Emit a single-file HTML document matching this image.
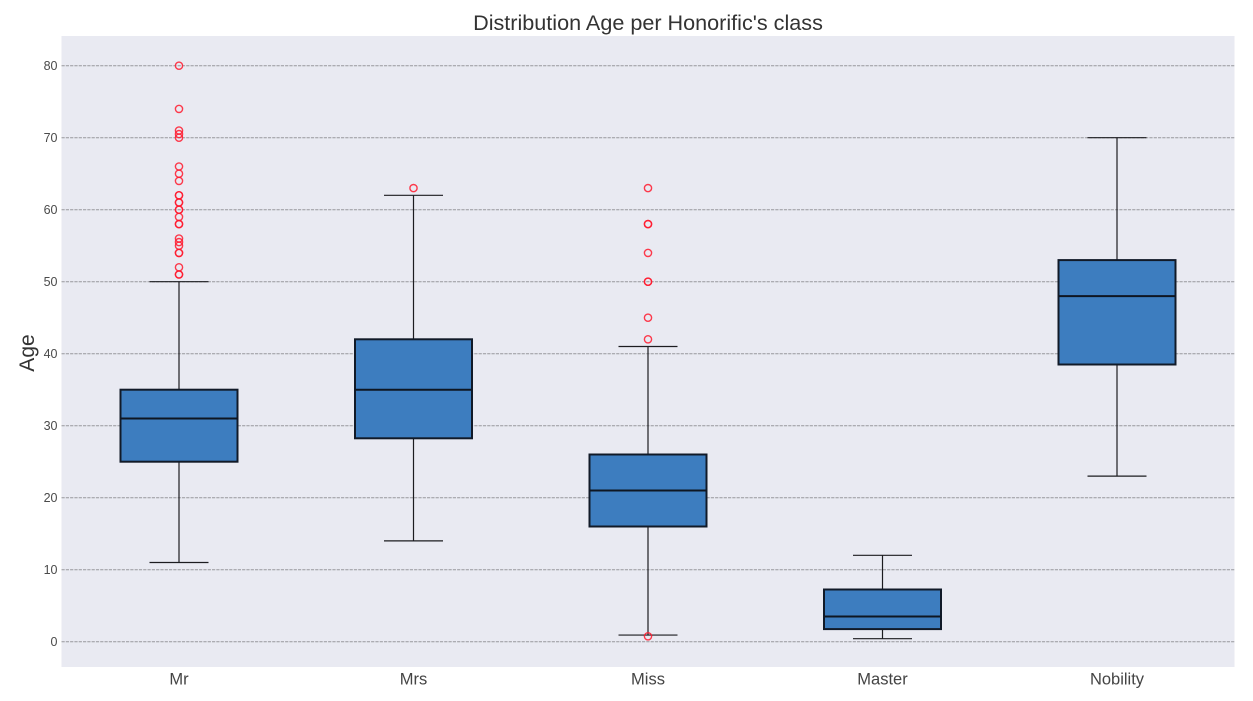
<!DOCTYPE html>
<html lang="en">
<head>
<meta charset="utf-8">
<title>Distribution Age per Honorific's class</title>
<style>
html,body{margin:0;padding:0;background:#fff;}
svg{display:block;font-family:"Liberation Sans",Arial,sans-serif;filter:blur(0.35px);}
</style>
</head>
<body>
<svg id="chart" xmlns="http://www.w3.org/2000/svg" width="1253" height="701" viewBox="0 0 1253 701">
  <rect x="61.5" y="36" width="1173" height="631" fill="#e9eaf2"/>
  <text x="648" y="30" font-size="21.6" fill="#333" text-anchor="middle">Distribution Age per Honorific's class</text>
  <text transform="translate(34,353) rotate(-90)" font-size="21" fill="#333" text-anchor="middle">Age</text>
  <g id="grid"></g>
  <g id="yticks"></g>
  <g id="xticks"></g>
  <g id="boxes"></g>
</svg>
<script>
const categories = ["Mr", "Mrs", "Miss", "Master", "Nobility"];
const whiskerLow = [11, 14, 0.92, 0.42, 23];
const quartile1 = [25, 28.25, 16, 1.75, 38.5];
const medians = [31, 35, 21, 3.5, 48];
const quartile3 = [35, 42, 26, 7.25, 53];
const whiskerHigh = [50, 62, 41, 12, 70];
const outliersMr = [80, 74, 71, 70.5, 70, 66, 65, 64, 62, 62, 61, 61, 60, 60, 59, 58, 58, 56, 55.5, 55, 54, 54, 52, 51, 51];
const outliersMrs = [63];
const outliersMiss = [63, 58, 58, 54, 50, 50, 45, 42, 0.75];
const outliersMaster = [];
const outliersNobility = [];
const outlierSeries = [outliersMr, outliersMrs, outliersMiss, outliersMaster, outliersNobility];
const yTickValues = [0, 10, 20, 30, 40, 50, 60, 70, 80];

const NS = "http://www.w3.org/2000/svg";
const plotLeft = 61.5, plotRight = 1234.5;
function yScale(v) { return 641.7 - v * 7.2; }
function xScale(i) { return 179 + i * 234.5; }
const boxHalf = 58.5, capHalf = 29.5;

function make(parent, tag, attrs) {
  const el = document.createElementNS(NS, tag);
  for (const k in attrs) el.setAttribute(k, attrs[k]);
  parent.appendChild(el);
  return el;
}

const gridG = document.getElementById("grid");
const yG = document.getElementById("yticks");
const xG = document.getElementById("xticks");
const boxG = document.getElementById("boxes");

yTickValues.forEach(function (v) {
  const y = yScale(v);
  const line = make(gridG, "line", { x1: plotLeft, x2: plotRight, y1: y, y2: y, stroke: "#97979c", "stroke-width": 1, "stroke-dasharray": "3.2 1.1" });
  
  
  const t = make(yG, "text", { x: 57.5, y: y + 4.4, "font-size": 12.5, fill: "#4a4a4a", "text-anchor": "end" });
  t.textContent = v;
  
  
});

categories.forEach(function (c, i) {
  const x = xScale(i);
  const t = make(xG, "text", { x: x, y: 684.5, "font-size": 16.5, fill: "#444", "text-anchor": "middle" });
  t.textContent = c;
  
  

  const g = make(boxG, "g", {});
  
  

  const segs = [
    [x, x, yScale(whiskerHigh[i]), yScale(quartile3[i])],
    [x, x, yScale(quartile1[i]), yScale(whiskerLow[i])],
    [x - capHalf, x + capHalf, yScale(whiskerHigh[i]), yScale(whiskerHigh[i])],
    [x - capHalf, x + capHalf, yScale(whiskerLow[i]), yScale(whiskerLow[i])]
  ];
  segs.forEach(function (s) {
    const w = make(g, "line", { x1: s[0], x2: s[1], y1: s[2], y2: s[3], stroke: "#1c1c20", "stroke-width": 1.2 });
    
    
  });

  const top = yScale(quartile3[i]), bottom = yScale(quartile1[i]);
  const r = make(g, "rect", { x: x - boxHalf, y: top, width: boxHalf * 2, height: bottom - top, fill: "#3d7dbf", stroke: "#111a28", "stroke-width": 2 });
  
  

  const my = yScale(medians[i]);
  const m = make(g, "line", { x1: x - boxHalf, x2: x + boxHalf, y1: my, y2: my, stroke: "#0e1622", "stroke-width": 2 });
  
  

  outlierSeries[i].forEach(function (v) {
    const o = make(g, "circle", { cx: x, cy: yScale(v), r: 3.6, fill: "none", stroke: "#ff1a2e", "stroke-width": 1.4, "stroke-opacity": 0.85 });
    
    
  });
});
</script>
</body>
</html>
